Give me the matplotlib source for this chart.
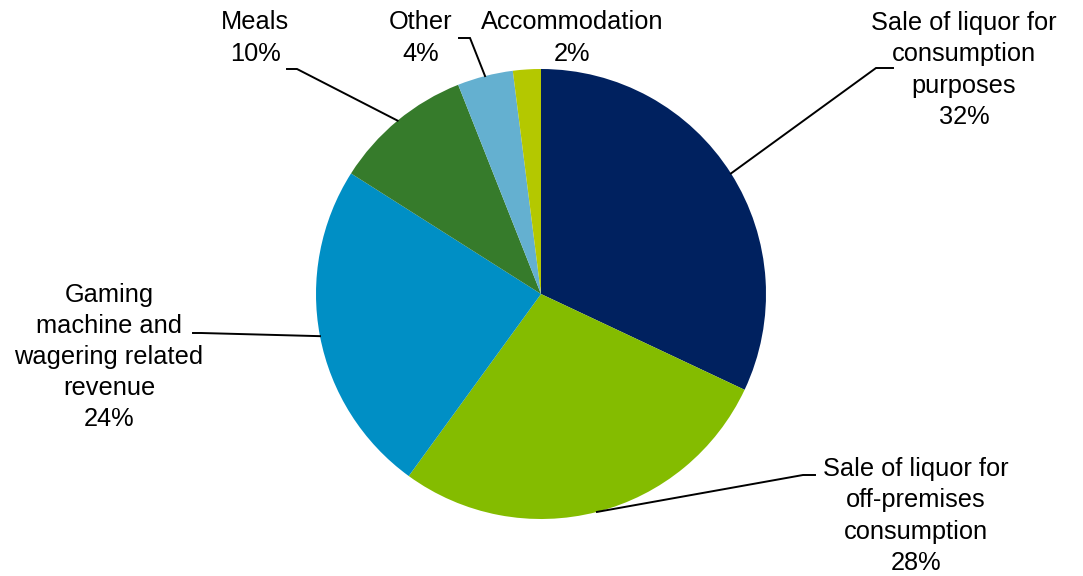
import numpy as np
import matplotlib.pyplot as plt

plt.rcParams['font.family'] = ['Liberation Sans', 'DejaVu Sans']

# revenue split, clockwise from 12 o'clock
categories = [
    'Sale of liquor for\nconsumption\npurposes',
    'Sale of liquor for\noff-premises\nconsumption',
    'Gaming\nmachine and\nwagering related\nrevenue',
    'Meals',
    'Other',
    'Accommodation',
]
shares = [32, 28, 24, 10, 4, 2]
colors = ['#00215F', '#84BC00', '#008FC5', '#367B2B', '#64B0D0', '#B4C800']

W, H = 1083, 576

# label centres and the short horizontal stub of each leader line (pixel coords, y down)
label_xy = [(964, 70), (916, 516), (109, 357), (255, 38), (421, 38), (572, 38)]
stubs = [((893, 68), (876, 68)),
         ((815, 475), (803, 475)),
         ((193, 333), (201, 333)),
         ((287, 69), (297, 69)),
         ((459, 38), (470, 38)),
         None]

fig = plt.figure(figsize=(W / 100, H / 100), dpi=100)
ax = fig.add_axes([0, 0, 1, 1])

cx, cy, r = 541, H - 294, 225
wedges, _ = ax.pie(shares, colors=colors, startangle=90, counterclock=False,
                   center=(cx, cy), radius=r)
ax.set_xlim(0, W)
ax.set_ylim(0, H)
ax.axis('off')

for w, cat, share, (lx, ly), stub in zip(wedges, categories, shares, label_xy, stubs):
    ax.text(lx, H - ly, f'{cat}\n{share}%', ha='center', va='center',
            fontsize=18.3, linespacing=1.38, color='black')
    if stub is None:
        continue
    mid = np.deg2rad((w.theta1 + w.theta2) / 2)
    ex, ey = cx + r * np.cos(mid), cy + r * np.sin(mid)
    (x0, y0), (x1, y1) = stub
    ax.plot([x0, x1, ex], [H - y0, H - y1, ey], color='black', lw=1.4,
            solid_joinstyle='miter')

fig.savefig('out.png', dpi=100)
